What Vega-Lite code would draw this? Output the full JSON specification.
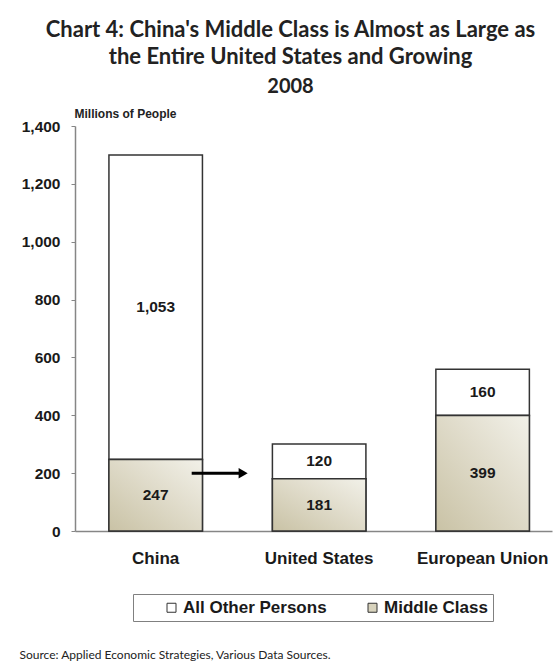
{
  "$schema": "https://vega.github.io/schema/vega-lite/v6.json",
  "width": 477,
  "height": 405,
  "autosize": {"type": "none"},
  "padding": {"left": 75, "top": 126, "right": 4, "bottom": 135},
  "background": "white",
  "title": {
    "text": ["Chart 4: China's Middle Class is Almost as Large as", "the Entire United States and Growing"],
    "subtitle": "2008",
    "font": "Lato",
    "fontSize": 22,
    "fontWeight": "bold",
    "color": "#222222",
    "lineHeight": 27,
    "subtitleFont": "Lato",
    "subtitleFontSize": 20,
    "subtitleFontWeight": "bold",
    "subtitleColor": "#222222",
    "subtitlePadding": 8,
    "anchor": "middle",
    "dx": -23,
    "offset": 9
  },
  "config": {
    "view": {"stroke": null},
    "axis": {"grid": false}
  },
  "datasets": {
    "main": [
      {"region": "China", "segment": "All Other Persons", "value": 1053},
      {"region": "China", "segment": "Middle Class", "value": 247},
      {"region": "United States", "segment": "All Other Persons", "value": 120},
      {"region": "United States", "segment": "Middle Class", "value": 181},
      {"region": "European Union", "segment": "All Other Persons", "value": 160},
      {"region": "European Union", "segment": "Middle Class", "value": 399}
    ],
    "arrow": [
      {"from": "China", "to": "United States", "level": 200}
    ]
  },
  "layer": [
    {
      "data": {"name": "main"},
      "mark": {"type": "bar", "stroke": "#333333", "strokeWidth": 1.5},
      "encoding": {
        "x": {
          "field": "region",
          "type": "nominal",
          "title": "Source: Applied Economic Strategies, Various Data Sources.",
          "scale": {
            "domain": ["China", "United States", "European Union"],
            "paddingInner": 0.428,
            "paddingOuter": 0.173,
            "align": 0.6
          },
          "axis": {
            "labelAngle": 0,
            "labelFont": "Liberation Sans",
            "labelFontSize": 17,
            "labelFontWeight": "bold",
            "labelColor": "#1a1a1a",
            "labelBaseline": "middle",
            "labelPadding": 27,
            "ticks": false,
            "tickSize": 0,
            "domainColor": "#868686",
            "domainWidth": 1.5,
            "titleFont": "Lato",
            "titleFontSize": 12,
            "titleFontWeight": "normal",
            "titleColor": "#222222",
            "titleAlign": "left",
            "titleBaseline": "middle",
            "titleX": -56,
            "titleY": 123
          }
        },
        "y": {
          "field": "value",
          "type": "quantitative",
          "stack": "zero",
          "title": "Millions of People",
          "scale": {"domain": [0, 1400], "nice": false},
          "axis": {
            "values": [0, 200, 400, 600, 800, 1000, 1200, 1400],
            "format": ",.0f",
            "labelFont": "Liberation Sans",
            "labelFontSize": 15.5,
            "labelFontWeight": "bold",
            "labelColor": "#1a1a1a",
            "labelPadding": 11,
            "tickSize": 4,
            "tickColor": "#868686",
            "domainColor": "#868686",
            "domainWidth": 1.5,
            "titleAngle": 0,
            "titleAlign": "left",
            "titleBaseline": "middle",
            "titleX": -1,
            "titleY": -13,
            "titleFont": "Liberation Sans",
            "titleFontSize": 12,
            "titleFontWeight": "bold",
            "titleColor": "#222222"
          }
        },
        "color": {
          "field": "segment",
          "type": "nominal",
          "scale": {"domain": ["All Other Persons", "Middle Class"], "range": ["#ffffff", "#d8d3bd"]},
          "legend": {
            "title": null,
            "orient": "none",
            "legendX": 58,
            "legendY": 468,
            "direction": "horizontal",
            "strokeColor": "#808080",
            "padding": 5,
            "symbolType": "square",
            "symbolSize": 81,
            "symbolStrokeColor": "#333333",
            "symbolStrokeWidth": 1,
            "symbolOffset": 25,
            "columnPadding": 12,
            "labelOffset": 3,
            "labelFont": "Liberation Sans",
            "labelFontSize": 17,
            "labelFontWeight": "bold",
            "labelColor": "#1a1a1a"
          }
        },
        "order": {"field": "segment", "sort": "descending"}
      }
    },
    {
      "data": {"name": "main"},
      "transform": [{"filter": "datum.segment === 'Middle Class'"}],
      "mark": {
        "type": "bar",
        "stroke": "#333333",
        "strokeWidth": 1.5,
        "color": {
          "gradient": "linear",
          "x1": 0, "y1": 1, "x2": 1, "y2": 0,
          "stops": [
            {"offset": 0, "color": "#c9c2a5"},
            {"offset": 0.6, "color": "#e2dece"},
            {"offset": 1, "color": "#f2f1e9"}
          ]
        }
      },
      "encoding": {
        "x": {"field": "region", "type": "nominal", "title": "Source: Applied Economic Strategies, Various Data Sources."},
        "y": {"field": "value", "type": "quantitative", "stack": null, "title": "Millions of People"}
      }
    },
    {
      "data": {"name": "main"},
      "transform": [
        {"stack": "value", "groupby": ["region"], "sort": [{"field": "segment", "order": "descending"}], "as": ["v0", "v1"]},
        {"calculate": "(datum.v0 + datum.v1) / 2", "as": "mid"}
      ],
      "mark": {"type": "text", "font": "Liberation Sans", "fontSize": 15.5, "fontWeight": "bold", "color": "#1a1a1a", "baseline": "middle"},
      "encoding": {
        "x": {"field": "region", "type": "nominal", "title": "Source: Applied Economic Strategies, Various Data Sources."},
        "y": {"field": "mid", "type": "quantitative", "title": "Millions of People"},
        "text": {"field": "value", "type": "quantitative", "format": ","}
      }
    },
    {
      "data": {"name": "arrow"},
      "mark": {"type": "rule", "color": "#000000", "strokeWidth": 3, "xOffset": 36, "x2Offset": -80},
      "encoding": {
        "x": {"field": "from", "type": "nominal", "title": "Source: Applied Economic Strategies, Various Data Sources."},
        "x2": {"field": "to"},
        "y": {"field": "level", "type": "quantitative", "title": "Millions of People"}
      }
    },
    {
      "data": {"name": "arrow"},
      "mark": {"type": "point", "shape": "triangle-right", "filled": true, "color": "#000000", "opacity": 1, "size": 110, "xOffset": -76},
      "encoding": {
        "x": {"field": "to", "type": "nominal", "title": "Source: Applied Economic Strategies, Various Data Sources."},
        "y": {"field": "level", "type": "quantitative", "title": "Millions of People"}
      }
    }
  ]
}
